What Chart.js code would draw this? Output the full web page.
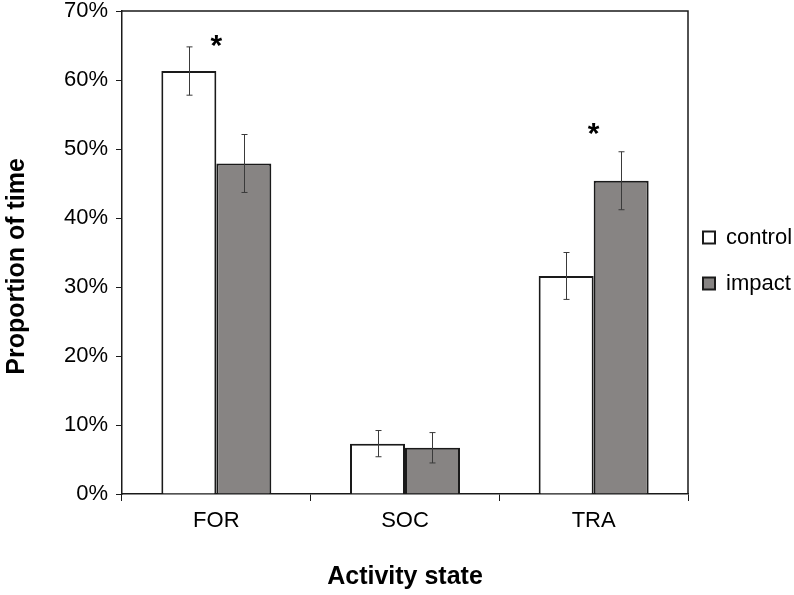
<!DOCTYPE html>
<html>
<head>
<meta charset="utf-8">
<script src="https://cdn.jsdelivr.net/npm/chart.js@4.4.0/dist/chart.umd.min.js"></script>
<style>
  html, body { margin: 0; padding: 0; background: #fff; }
  #wrap { width: 794px; height: 595px; }
</style>
</head>
<body>
<div id="wrap"><canvas id="chart" width="794" height="595"></canvas></div>
<script>
        // Data (percent)
        const categories = ['FOR', 'SOC', 'TRA'];
        const controlValues = [61.3, 7.3, 31.6];
        const controlErrors = [3.5, 1.9, 3.4];
        const impactValues = [47.9, 6.7, 45.4];
        const impactErrors = [4.2, 2.2, 4.2];
        const yTicks = [0, 10, 20, 30, 40, 50, 60, 70];
        // significance markers: category and height of the asterisk
        const sigCategories = ['FOR', 'TRA'];
        const sigLevels = [65.6, 52.8];

        const errorsBySeries = [controlErrors, impactErrors];

        // Error bars drawn from the y scale
        const errorBars = {
            id: 'errorBars',
            afterDatasetsDraw(chart) {
                const ctx = chart.ctx;
                const y = chart.scales.y;
                ctx.save();
                ctx.strokeStyle = '#3a3a3a';
                ctx.lineWidth = 1;
                chart.data.datasets.forEach((ds, i) => {
                    const meta = chart.getDatasetMeta(i);
                    meta.data.forEach((bar, j) => {
                        const v = ds.data[j];
                        const e = errorsBySeries[i][j];
                        const top = y.getPixelForValue(v + e);
                        const bottom = y.getPixelForValue(v - e);
                        const x = Math.round(bar.x) + 0.5;
                        ctx.beginPath();
                        ctx.moveTo(x, top);
                        ctx.lineTo(x, bottom);
                        ctx.moveTo(x - 3, top);
                        ctx.lineTo(x + 3, top);
                        ctx.moveTo(x - 3, bottom);
                        ctx.lineTo(x + 3, bottom);
                        ctx.stroke();
                    });
                });
                ctx.restore();
            }
        };

        // Asterisks and plot frame
        const annotations = {
            id: 'annotations',
            afterUpdate(chart) {
                // move the legend a bit closer to the plot and lower
                if (chart.legend) {
                    chart.legend.left -= 9;
                    chart.legend.top += 8;
                    chart.legend.bottom += 8;
                }
            },
            afterDraw(chart) {
                const ctx = chart.ctx;
                const { x, y } = chart.scales;
                const area = chart.chartArea;
                ctx.save();
                ctx.strokeStyle = '#1a1a1a';
                ctx.lineWidth = 1.5;
                ctx.beginPath();
                ctx.moveTo(area.left, area.top);
                ctx.lineTo(area.right, area.top);
                ctx.lineTo(area.right, area.bottom);
                ctx.stroke();

                ctx.fillStyle = '#000';
                ctx.font = 'bold 30px "Liberation Sans", Arial, sans-serif';
                ctx.textAlign = 'center';
                ctx.textBaseline = 'middle';
                sigCategories.forEach((c, i) => {
                    const px = x.getPixelForValue(categories.indexOf(c));
                    const py = y.getPixelForValue(sigLevels[i]);
                    ctx.fillText('*', px, py + 5);
                });
                ctx.restore();
            }
        };

        const font = '"Liberation Sans", Arial, sans-serif';

        new Chart(document.getElementById('chart'), {
            type: 'bar',
            data: {
                labels: categories,
                datasets: [{
                    label: 'control',
                    data: controlValues,
                    backgroundColor: '#ffffff',
                    borderColor: '#1a1a1a',
                    borderWidth: 2,
                    borderSkipped: 'bottom'
                }, {
                    label: 'impact',
                    data: impactValues,
                    backgroundColor: '#878483',
                    borderColor: '#1a1a1a',
                    borderWidth: 2,
                    borderSkipped: 'bottom'
                }]
            },
            options: {
                responsive: false,
                animation: false,
                categoryPercentage: 0.583,
                barPercentage: 1,
                layout: { padding: { top: 11, right: 0, bottom: 0, left: 2 } },
                scales: {
                    x: {
                        afterFit(scale) {
                            scale.height = 101;
                        },
                        grid: {
                            offset: true,
                            drawOnChartArea: false,
                            tickLength: 7,
                            color: '#1a1a1a'
                        },
                        border: { color: '#1a1a1a', width: 1.5 },
                        ticks: { color: '#000', font: { family: font, size: 22 }, padding: 7 },
                        title: {
                            display: true,
                            text: 'Activity state',
                            color: '#000',
                            font: { family: font, size: 25, weight: 'bold' },
                            padding: { top: 10, bottom: 3 }
                        }
                    },
                    y: {
                        min: 0,
                        max: 70,
                        afterBuildTicks(scale) {
                            scale.ticks = yTicks.map(v => ({ value: v }));
                        },
                        afterFit(scale) {
                            scale.width = 120;
                            scale.paddingTop = 0;
                            scale.paddingBottom = 0;
                        },
                        grid: {
                            drawOnChartArea: false,
                            tickLength: 6,
                            color: '#1a1a1a'
                        },
                        border: { color: '#1a1a1a', width: 1.5 },
                        ticks: {
                            color: '#000',
                            font: { family: font, size: 22 },
                            padding: 8,
                            callback: v => v + '%'
                        },
                        title: {
                            display: true,
                            text: 'Proportion of time    ',
                            color: '#000',
                            font: { family: font, size: 25, weight: 'bold' },
                            padding: { top: 0, bottom: 0 }
                        }
                    }
                },
                plugins: {
                    legend: {
                        position: 'right',
                        fullSize: false,
                        maxWidth: 106,
                        labels: {
                            color: '#000',
                            font: { family: font, size: 22 },
                            boxWidth: 12,
                            boxHeight: 12,
                            padding: 24
                        }
                    },
                    tooltip: { enabled: false }
                }
            },
            plugins: [errorBars, annotations]
        });
</script>
</body>
</html>
